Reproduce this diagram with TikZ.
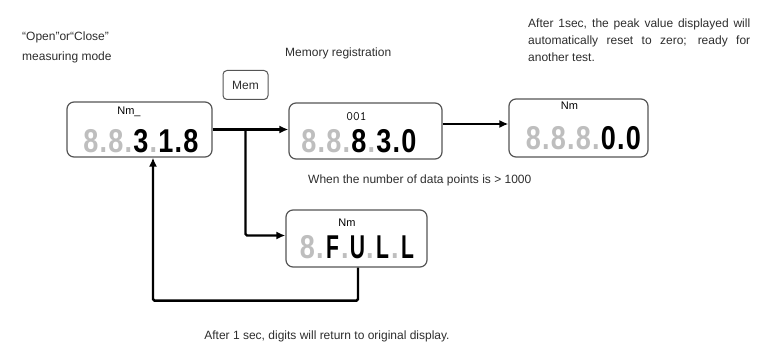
\documentclass[tikz,border=0pt]{standalone}
\usepackage{fontspec}
\usepackage{graphicx}
\setmainfont{Liberation Sans}
\newfontfamily\lcdfont[FakeStretch=0.82]{Liberation Sans}
\usetikzlibrary{arrows.meta}

\definecolor{segoff}{RGB}{190,190,190}
\definecolor{frame}{RGB}{85,85,85}
\definecolor{ink}{RGB}{45,45,45}

% one digit cell and one dot cell of the LCD
\newcommand{\dg}[1]{\makebox[17pt]{#1}}
\newcommand{\dgl}[1]{\makebox[17pt]{\scalebox{0.78}[1]{#1}}}
\newcommand{\dpt}[1]{\makebox[8pt]{#1}}
\newcommand{\off}[1]{\textcolor{segoff}{#1}}

\begin{document}
\begin{tikzpicture}[x=1pt, y=-1pt,
        lcd/.style={draw=frame, line width=1.2pt, rounded corners=7pt, inner sep=0pt},
        unit/.style={font=\fontsize{11}{12}\selectfont, inner sep=0pt},
        seg/.style={font=\lcdfont\bfseries\fontsize{33}{33}\selectfont, inner sep=0pt},
        note/.style={font=\fontsize{12}{17}\selectfont, text=ink, inner sep=0pt},
        memkey/.style={draw=frame, line width=1pt, rounded corners=4pt, minimum width=45pt,
            minimum height=29pt, font=\fontsize{12}{14}\selectfont, text=ink},
        flow/.style={line width=2.4pt, ->, >={Latex[length=9pt,width=8pt]}, rounded corners=1.5pt}]
    \useasboundingbox (0,0) rectangle (772,347);

    % texts
    \node[note, align=left, anchor=west, font=\fontsize{12}{20}\selectfont] (mode) at (22,47) {“Open”or“Close”\\measuring mode};
    \node[note, anchor=west] (memreg) at (285,53) {Memory registration};
    \node[note, anchor=north west, text width=222pt, align=justify] (reset) at (528,19)
        {After 1sec, the peak value displayed will\linebreak automatically reset to zero; ready for\linebreak another test.};
    \node[note, anchor=west] (full) at (308,180) {When the number of data points is > 1000};
    \node[note] (back) at (327,336) {After 1 sec, digits will return to original display.};

    \node[memkey] (mem) at (245.5,85) {Mem};

    % displays
    \node[lcd, minimum width=145pt, minimum height=55pt] (disp1) at (139.5,129.5) {};
    \node[unit] (unit1) at (129,112) {Nm\_};
    \node[seg] (seg1) at (141,141.5) {\off{\dg{8}\dpt{.}\dg{8}\dpt{.}}\dg{3}\off{\dpt{.}}\dg{1}\dpt{.}\dg{8}};

    \node[lcd, minimum width=153pt, minimum height=56pt] (disp2) at (365.5,131) {};
    \node[unit, font=\ttfamily\fontsize{13}{14}\selectfont] (unit2) at (356.5,117) {001};
    \node[seg] (seg2) at (359,141.5) {\off{\dg{8}\dpt{.}\dg{8}\dpt{.}}\dg{8}\off{\dpt{.}}\dg{3}\dpt{.}\dg{0}};

    \node[lcd, minimum width=139pt, minimum height=58pt] (disp3) at (578.5,128) {};
    \node[unit] (unit3) at (569.5,106) {Nm};
    \node[seg] (seg3) at (583.5,138.5) {\off{\dg{8}\dpt{.}\dg{8}\dpt{.}\dg{8}\dpt{.}}\dg{0}\dpt{.}\dg{0}};

    \node[lcd, minimum width=141pt, minimum height=57pt] (disp4) at (356.5,238.5) {};
    \node[unit] (unit4) at (347,223) {Nm};
    \node[seg] (seg4) at (357.5,247) {\off{\dg{8}\dpt{.}}\dgl{F}\off{\dpt{.}}\dgl{U}\off{\dpt{.}}\dgl{L}\off{\dpt{.}}\dgl{L}};

    % connectors
    \coordinate (split) at (mem.south |- disp1.east);
    \draw[flow] (disp1.east) -- (disp1.east -| disp2.west);
    \draw[flow] (split) |- ([yshift=3]disp4.west);
    \draw[flow] ([yshift=7]disp2.east) -- ([yshift=7]disp2.east -| disp3.west);
    \draw[flow] ([xshift=1.5]disp4.south) -- ++(0,33) -| ([xshift=13.5]disp1.south);
\end{tikzpicture}
\end{document}
